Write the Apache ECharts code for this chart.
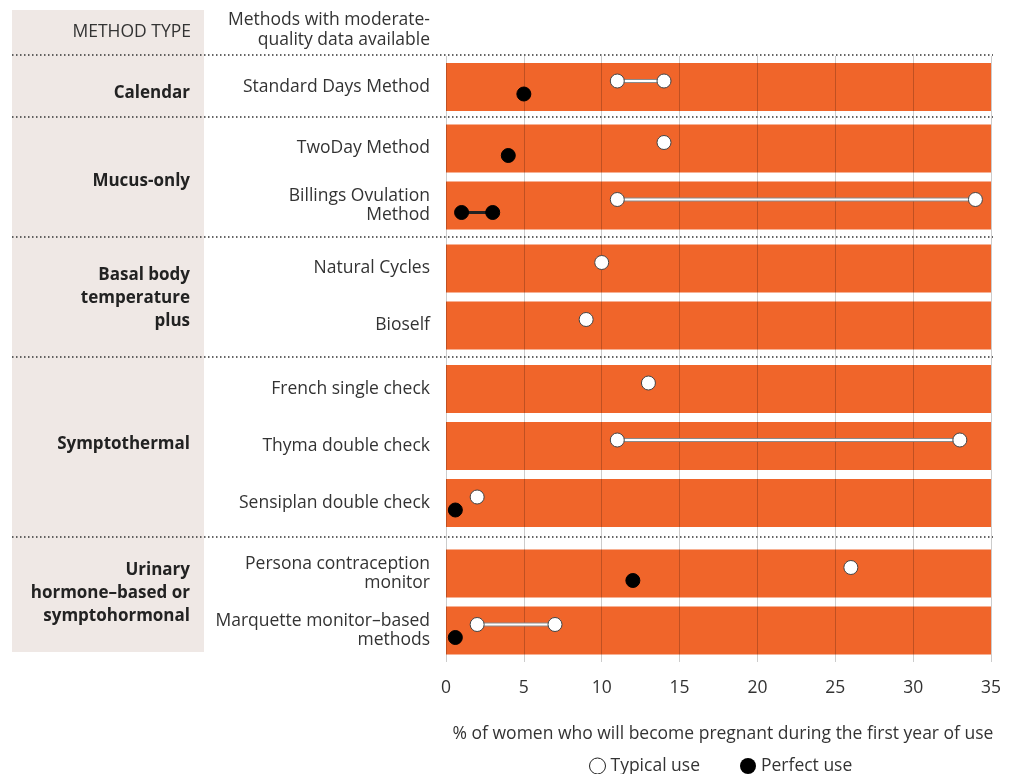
<!DOCTYPE html>
<html>
<head>
<meta charset="utf-8">
<script src="https://cdn.jsdelivr.net/npm/echarts@6/dist/echarts.min.js"></script>
<style>
  html, body { margin: 0; padding: 0; background: #fff; }
  #main { width: 1014px; height: 774px; }
</style>
</head>
<body>
<div id="main"></div>
<script>
// method types (left column) and the methods in each
var groupNames = ['Calendar', 'Mucus-only', 'Basal body\ntemperature\nplus', 'Symptothermal', 'Urinary\nhormone–based or\nsymptohormonal'];
var methods = [
  'Standard Days Method',
  'TwoDay Method', 'Billings Ovulation\nMethod',
  'Natural Cycles', 'Bioself',
  'French single check', 'Thyma double check', 'Sensiplan double check',
  'Persona contraception\nmonitor', 'Marquette monitor–based\nmethods'
];
var methodGroup = [0, 1, 1, 2, 2, 3, 3, 3, 4, 4];

// % pregnant in first year (low / high of the reported range)
var typicalLow  = [11, 14, 11, 10, 9, 13, 11, 2, 26, 2];
var typicalHigh = [14, 14, 34, 10, 9, 13, 33, 2, 26, 7];
var perfectLow  = [5, 4, 1, null, null, null, null, 0.6, 12, 0.6];
var perfectHigh = [5, 4, 3, null, null, null, null, 0.6, 12, 0.6];

var xMax = 35, xStep = 5;

var myChart = echarts.init(document.getElementById('main'));

var FONT = '"Open Sans", sans-serif';
var FS = 17.5;
var TXT = '#333';
var ORANGE = '#f0652a';
var plotLeft = 446, plotRight = 23;
var rowH = 57;
var groupTop = [58.5, 120, 240, 360.5, 545];

function makeRange(offset, isTypical) {
  return function (params, api) {
    var lo = api.value(0), hi = api.value(1), cat = api.value(2);
    var p1 = api.coord([lo, cat]);
    var p2 = api.coord([hi, cat]);
    var y = p1[1] + offset;
    var kids = [];
    if (hi > lo) {
      if (isTypical) {
        kids.push({ type: 'line', shape: { x1: p1[0], y1: y, x2: p2[0], y2: y }, style: { stroke: '#8a8a8a', lineWidth: 4 } });
        kids.push({ type: 'line', shape: { x1: p1[0], y1: y, x2: p2[0], y2: y }, style: { stroke: '#fff', lineWidth: 2 } });
      } else {
        kids.push({ type: 'line', shape: { x1: p1[0], y1: y, x2: p2[0], y2: y }, style: { stroke: '#222', lineWidth: 3 } });
      }
    }
    var pts = hi > lo ? [p1, p2] : [p1];
    pts.forEach(function (p) {
      kids.push({
        type: 'circle',
        shape: { cx: p[0], cy: y, r: 7 },
        style: isTypical ? { fill: '#fff', stroke: '#444', lineWidth: 1 } : { fill: '#000', stroke: '#000', lineWidth: 1 }
      });
    });
    return { type: 'group', children: kids };
  };
}

var grids = [], xAxes = [], yAxes = [], series = [];
groupNames.forEach(function (g, gi) {
  var idx = [];
  methodGroup.forEach(function (m, i) { if (m === gi) idx.push(i); });
  grids.push({ left: plotLeft, right: plotRight, top: groupTop[gi], height: rowH * idx.length });
  xAxes.push({ gridIndex: gi, type: 'value', min: 0, max: xMax, show: false });
  yAxes.push({
    gridIndex: gi, type: 'category', inverse: true,
    data: idx.map(function (i) { return methods[i]; }),
    axisLine: { show: false }, axisTick: { show: false },
    axisLabel: { color: TXT, fontSize: FS, fontFamily: FONT, margin: 16, lineHeight: 19, padding: [5, 0, 0, 0] }
  });
  series.push({
    type: 'bar', xAxisIndex: gi, yAxisIndex: gi, z: 1, silent: true,
    barWidth: 48, itemStyle: { color: ORANGE },
    data: idx.map(function () { return xMax; })
  });
  series.push({
    name: 'Typical use', type: 'custom', xAxisIndex: gi, yAxisIndex: gi, z: 5,
    renderItem: makeRange(-6, true),
    encode: { x: [0, 1], y: 2 },
    data: idx.map(function (i, k) { return [typicalLow[i], typicalHigh[i], k]; })
  });
  series.push({
    name: 'Perfect use', type: 'custom', xAxisIndex: gi, yAxisIndex: gi, z: 5,
    renderItem: makeRange(7, false),
    encode: { x: [0, 1], y: 2 },
    data: idx.filter(function (i) { return perfectLow[i] != null; })
      .map(function (i) { return [perfectLow[i], perfectHigh[i], idx.indexOf(i)]; })
  });
});

// background grid: value axis with grid lines running through all rows
var bg = groupNames.length;
grids.push({ left: plotLeft, right: plotRight, top: 56, bottom: 112 });
xAxes.push({
  gridIndex: bg, type: 'value', min: 0, max: xMax, interval: xStep, z: 3,
  axisLine: { show: false }, axisTick: { show: false },
  splitLine: { show: true, lineStyle: { color: 'rgba(0,0,0,0.2)', width: 1 } },
  axisLabel: { color: TXT, fontSize: FS, fontFamily: FONT, margin: 17 }
});
yAxes.push({ gridIndex: bg, type: 'value', show: false });

// left panel, header, group labels and dotted separators
var graphics = [
  { type: 'rect', z: -10, shape: { x: 12, y: 10, width: 192, height: 642 }, style: { fill: '#efe8e5' } },
  { type: 'text', x: 191, y: 32, style: { text: 'METHOD TYPE', fill: TXT, font: FS + 'px ' + FONT, align: 'right', verticalAlign: 'middle' } },
  { type: 'text', x: 430, y: 30, style: { text: 'Methods with moderate-\nquality data available', fill: TXT, font: FS + 'px ' + FONT, lineHeight: 20, align: 'right', verticalAlign: 'middle' } },
  { type: 'text', x: 723, y: 734, style: { text: '% of women who will become pregnant during the first year of use', fill: TXT, font: FS + 'px ' + FONT, align: 'center', verticalAlign: 'middle' } }
];
[55, 117, 237, 357, 537].forEach(function (y) {
  graphics.push({ type: 'line', z: 10, shape: { x1: 12, y1: y, x2: 993, y2: y }, style: { stroke: '#333', lineWidth: 1.5, lineDash: [1.5, 2.5] } });
});
var groupCenter = [93, 181, 298, 444, 593];
groupNames.forEach(function (g, gi) {
  graphics.push({ type: 'text', z: 10, x: 190, y: groupCenter[gi], style: { text: g, fill: '#222', font: 'bold 17px ' + FONT, lineHeight: 23, align: 'right', verticalAlign: 'middle' } });
});

myChart.setOption({
  animation: false,
  backgroundColor: '#fff',
  grid: grids,
  xAxis: xAxes,
  yAxis: yAxes,
  graphic: graphics,
  legend: {
    left: 584, top: 752, itemGap: 40, itemWidth: 16, itemHeight: 16,
    textStyle: { color: TXT, fontSize: FS, fontFamily: FONT },
    data: [
      { name: 'Typical use', icon: 'circle', itemStyle: { color: '#fff', borderColor: '#222', borderWidth: 1 } },
      { name: 'Perfect use', icon: 'circle', itemStyle: { color: '#000', borderColor: '#000', borderWidth: 0 } }
    ],
    selectedMode: false
  },
  series: series
});
</script>
</body>
</html>
